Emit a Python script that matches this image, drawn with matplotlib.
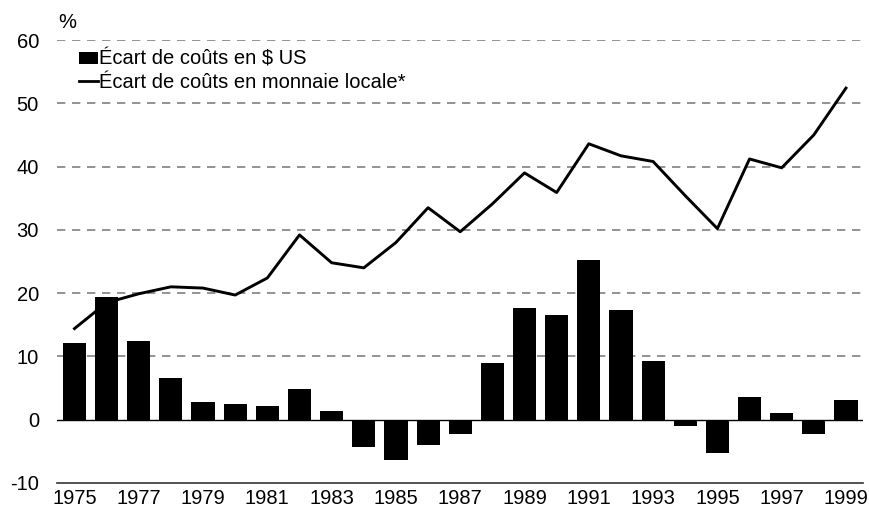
import matplotlib.pyplot as plt
import numpy as np
from matplotlib.lines import Line2D
from matplotlib.patches import Patch

plt.rcParams['font.family'] = ['Liberation Sans', 'DejaVu Sans']
plt.rcParams['axes.unicode_minus'] = False

years = np.arange(1975, 2000)
usd_gap = [12.2, 19.4, 12.5, 6.6, 2.8, 2.5, 2.2, 4.9, 1.3, -4.3, -6.3, -4.0, -2.3,
           9.0, 17.6, 16.6, 25.3, 17.4, 9.3, -1.0, -5.3, 3.6, 1.1, -2.2, 3.1]
local_gap = [14.4, 18.5, 19.9, 21.0, 20.8, 19.7, 22.4, 29.2, 24.8, 24.0, 28.0, 33.5, 29.7,
             34.1, 39.0, 35.9, 43.6, 41.7, 40.8, 35.4, 30.2, 41.2, 39.8, 45.0, 52.4]
tick_years = years[::2]
y_ticks = [-10, 0, 10, 20, 30, 40, 50, 60]

fig = plt.figure(figsize=(8.7, 5.12), dpi=100)
ax = fig.add_axes([57 / 870, 1 - 483 / 512, 806 / 870, 443 / 512])

# dashed grid from 10 up, solid zero line
for y in y_ticks[2:]:
    ax.axhline(y, color='#808080', lw=1.2, ls=(0, (5, 4)), zorder=0)
ax.axhline(0, color='black', lw=1.0, zorder=1)

ax.bar(years, usd_gap, width=0.72, color='black', zorder=2)
ax.plot(years, local_gap, color='black', lw=2.1, zorder=3)

ax.set_xlim(1974.456, 1999.53)
ax.set_ylim(-10, 60)
ax.set_yticks(y_ticks)
ax.set_xticks(tick_years)
ax.tick_params(axis='both', length=0, labelsize=14.5)
ax.tick_params(axis='y', pad=13)
ax.tick_params(axis='x', pad=4)
for s in ['top', 'right', 'left']:
    ax.spines[s].set_visible(False)
ax.spines['bottom'].set_color('#333333')
ax.spines['bottom'].set_linewidth(1.2)

fig.text(58 / 870, 1 - 22 / 512, '%', fontsize=14.5, va='center', ha='left')

handles = [Patch(facecolor='black'),
           Line2D([0], [0], color='black', lw=2)]
labels = ['Écart de coûts en $ US', 'Écart de coûts en monnaie locale*']
ax.legend(handles, labels, loc='upper left', bbox_to_anchor=(0.027, 0.978), frameon=False,
          fontsize=14.5, handlelength=0.94, handletextpad=0.05, labelspacing=0.2,
          handleheight=0.55, borderaxespad=0, borderpad=0)

fig.savefig('out.png', dpi=100)
